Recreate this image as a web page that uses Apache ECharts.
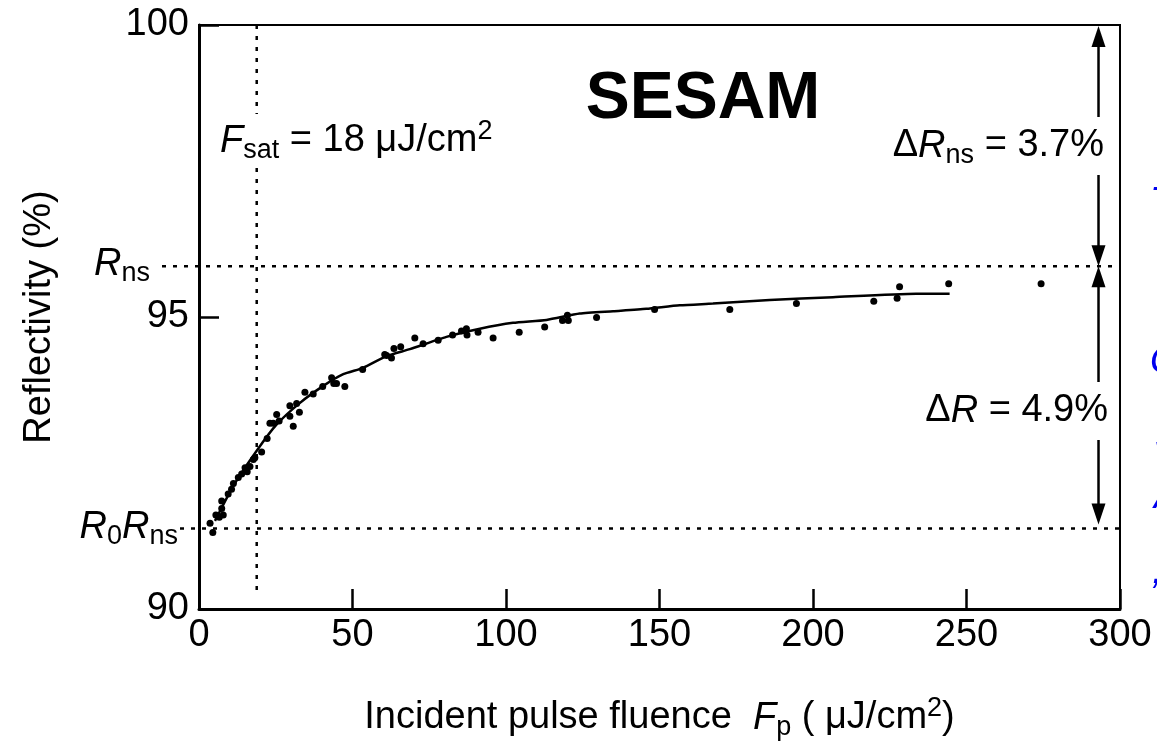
<!DOCTYPE html>
<html>
<head>
<meta charset="utf-8">
<script src="https://cdn.jsdelivr.net/npm/echarts@6/dist/echarts.min.js"></script>
<style>
html, body { margin: 0; background: #fff; }
#chart { width: 1157px; height: 746px; }
</style>
</head>
<body>
<div id="chart"></div>
<script>
// measured points (fluence in uJ/cm2, reflectivity in %)
var fluence = [3.6, 4.5, 5.5, 6.6, 7.4, 7.4, 7.9, 9.5, 10.6, 11.2, 12.8, 13.9, 15.0, 15.7, 16.6, 17.7, 18.2, 20.4, 22.2, 23.1,
  24.2, 25.3, 26.1, 29.6, 29.6, 30.7, 31.8, 32.7, 34.5, 37.2, 40.3, 43.2, 43.9, 44.8, 47.5, 53.3, 60.5, 61.1, 62.7, 63.5,
  65.7, 70.3, 73.0, 77.9, 82.6, 85.5, 87.1, 87.3, 90.9, 95.8, 104.3, 112.6, 118.4, 120.0, 120.3, 129.5, 148.4, 172.9, 194.6, 219.8,
  227.4, 228.2, 244.2, 274.3];
var reflectivity = [91.47, 91.31, 91.61, 91.57, 91.72, 91.85, 91.61, 91.97, 92.05, 92.15, 92.25, 92.31, 92.42, 92.35, 92.44, 92.56, 92.59, 92.69, 92.92, 93.18,
  93.18, 93.33, 93.22, 93.30, 93.48, 93.13, 93.52, 93.37, 93.71, 93.68, 93.81, 93.96, 93.86, 93.86, 93.81, 94.10, 94.36, 94.34, 94.30, 94.46,
  94.49, 94.64, 94.54, 94.60, 94.69, 94.76, 94.80, 94.69, 94.74, 94.64, 94.74, 94.83, 94.94, 95.03, 94.94, 94.99, 95.13, 95.13, 95.23, 95.27,
  95.32, 95.52, 95.57, 95.57];
// fitted curve
var fitF = [5.2, 11.2, 18.8, 25.3, 32.9, 40.5, 47.0, 53.5, 61.1, 68.7, 80.6, 91.5, 102.3, 113.2, 124.0, 134.9, 145.7, 156.6, 167.4, 185.9, 206.5, 233.6, 244.5];
var fitR = [91.51, 92.11, 92.71, 93.16, 93.53, 93.82, 94.02, 94.13, 94.33, 94.45, 94.66, 94.80, 94.90, 94.95, 95.06, 95.10, 95.14, 95.20, 95.23, 95.29, 95.34, 95.40, 95.40];
// reference levels
var fSat = 18.8;
var rNs = 95.87;
var r0Rns = 91.38;
var arrowX = 293;

var FONT = '"Liberation Sans", Arial, sans-serif';
var rich = {
  i: { fontStyle: 'italic', fontSize: 38, lineHeight: 46, fontFamily: FONT, color: '#000' },
  sub: { fontSize: 27, lineHeight: 20, verticalAlign: 'bottom', fontFamily: FONT, color: '#000' },
  sup: { fontSize: 27, lineHeight: 20, verticalAlign: 'top', fontFamily: FONT, color: '#000' }
};

var pts = fluence.map(function (f, k) { return [f, reflectivity[k]]; });
var fit = fitF.map(function (f, k) { return [f, fitR[k]]; });

var chart = echarts.init(document.getElementById('chart'));
chart.setOption({
  animation: false,
  backgroundColor: '#fff',
  grid: { left: 199, right: 37, top: 25, bottom: 136, show: true, borderColor: '#000', borderWidth: 2 },
  xAxis: {
    type: 'value', min: 0, max: 300, interval: 50,
    axisLine: { onZero: false, lineStyle: { color: '#000', width: 3 } },
    axisTick: { inside: true, length: 20, lineStyle: { color: '#000', width: 2.5 } },
    splitLine: { show: false },
    axisLabel: { color: '#000', fontSize: 38, fontFamily: FONT, margin: 8 },
    name: 'Incident pulse fluence  {i|F}{sub|p} ( μJ/cm{sup|2})',
    nameLocation: 'middle',
    nameGap: 86,
    nameTextStyle: { color: '#000', fontSize: 38, lineHeight: 46, fontFamily: FONT, rich: rich }
  },
  yAxis: {
    type: 'value', min: 90, max: 100, interval: 5,
    axisLine: { onZero: false, lineStyle: { color: '#000', width: 3 } },
    axisTick: { inside: true, length: 20, lineStyle: { color: '#000', width: 2.5 } },
    splitLine: { show: false },
    axisLabel: { color: '#000', fontSize: 38, fontFamily: FONT, margin: 10 },
    name: 'Reflectivity (%)',
    nameLocation: 'middle',
    nameRotate: 90,
    nameGap: 140,
    nameTextStyle: { color: '#000', fontSize: 38, fontFamily: FONT }
  },
  series: [
    {
      type: 'scatter', data: pts, symbolSize: 7,
      itemStyle: { color: '#000', opacity: 1 }
    },
    {
      type: 'line', data: fit, showSymbol: false, smooth: 0.2,
      lineStyle: { color: '#000', width: 2.5 }
    }
  ]
});

function px(x, y) { return chart.convertToPixel({ gridIndex: 0 }, [x, y]); }

var xR = px(300, 100)[0];
var yTop = px(0, 100)[1];
var yBot = px(0, 90)[1];
var yNs = px(0, rNs)[1];
var y0 = px(0, r0Rns)[1];
var xSat = px(fSat, 100)[0];
var xArr = px(arrowX, 100)[0];
var dash = { stroke: '#000', lineWidth: 2.5, lineDash: [4, 7] };

function arrowHead(x, tipY, dir) {
  // dir = -1 points up, +1 points down
  return {
    type: 'polygon', z: 20,
    shape: { points: [[x, tipY], [x - 7, tipY - dir * 21], [x + 7, tipY - dir * 21]] },
    style: { fill: '#000' }
  };
}
function txt(x, y, text, align, extra) {
  var style = {
    text: text, x: 0, y: 0, fill: '#000', fontSize: 38, lineHeight: 46, fontFamily: FONT,
    align: align, verticalAlign: 'middle', rich: rich
  };
  for (var k in extra) style[k] = extra[k];
  return { type: 'text', x: x, y: y, z: 30, style: style };
}

chart.setOption({
  graphic: [
    { type: 'line', z: 10, shape: { x1: 162, y1: yNs, x2: xR, y2: yNs }, style: dash },
    { type: 'line', z: 10, shape: { x1: 180, y1: y0, x2: xR, y2: y0 }, style: dash },
    { type: 'line', z: 10, shape: { x1: xSat, y1: yTop, x2: xSat, y2: yBot - 12 }, style: dash },
    { type: 'line', z: 15, shape: { x1: xArr, y1: yTop + 10, x2: xArr, y2: yNs - 10 }, style: { stroke: '#000', lineWidth: 2.5 } },
    { type: 'line', z: 15, shape: { x1: xArr, y1: yNs + 10, x2: xArr, y2: y0 - 10 }, style: { stroke: '#000', lineWidth: 2.5 } },
    arrowHead(xArr, yTop + 1, -1),
    arrowHead(xArr, yNs, 1),
    arrowHead(xArr, yNs, -1),
    arrowHead(xArr, y0 - 4, 1),
    txt(703, 100, 'SESAM', 'center', { fontSize: 66, fontWeight: 'bold' }),
    txt(220, 141, '{i|F}{sub|sat} = 18 μJ/cm{sup|2}', 'left', { backgroundColor: '#fff', padding: [4, 0, 4, 0] }),
    txt(1104, 146, 'Δ{i|R}{sub|ns} = 3.7%', 'right', { backgroundColor: '#fff', padding: [6, 0, 6, 0] }),
    txt(1108, 411, 'Δ{i|R} = 4.9%', 'right', { backgroundColor: '#fff', padding: [6, 0, 6, 0] }),
    txt(150, yNs - 2, '{i|R}{sub|ns}', 'right', {}),
    txt(178, y0 - 1, '{i|R}{sub|0}{i|R}{sub|ns}', 'right', {}),
    // clipped blue characters at the right edge
    txt(1150, 203, 'T', 'left', { fill: '#0000ee', fontStyle: 'italic' }),
    txt(1150, 362, 'G', 'left', { fill: '#0000ee', fontStyle: 'italic' }),
    txt(1153, 458, 'V', 'left', { fill: '#0000ee', fontStyle: 'italic' }),
    txt(1154, 497, 'A', 'left', { fill: '#0000ee', fontStyle: 'italic' }),
    txt(1152, 572, ',', 'left', { fill: '#0000ee', fontStyle: 'italic' })
  ]
});

window.addEventListener('resize', function () { chart.resize(); });
</script>
</body>
</html>
